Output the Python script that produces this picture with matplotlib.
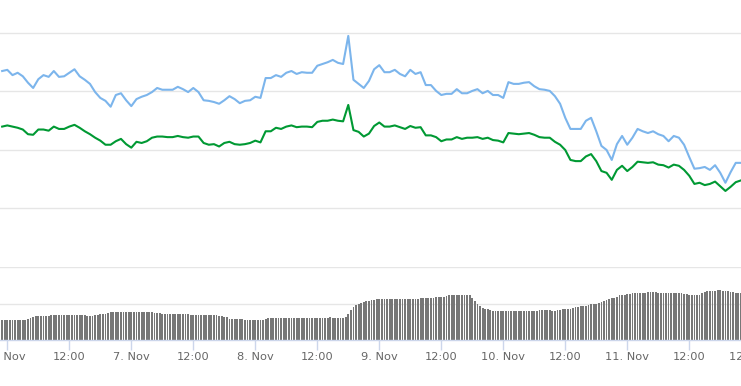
import matplotlib
matplotlib.use("Agg")
import matplotlib.pyplot as plt
import matplotlib.dates as mdates
from matplotlib.ticker import FuncFormatter
import pandas as pd

# ---------------- data ----------------
line_start = "2018-11-05 23:00"          # hourly samples
blue_values = [335, 337, 328, 332, 326, 315, 306, 321, 328, 325, 335, 325, 326, 332, 338, 326,
               320, 313, 299, 289, 284, 274, 294, 297, 285, 275, 287, 291, 294, 299, 306, 303,
               303, 303, 308, 304, 299, 306, 299, 285, 284, 282, 279, 285, 292, 287, 280, 284,
               285, 291, 289, 323, 323, 328, 325, 332, 335, 330, 333, 332, 332, 344, 347, 350,
               354, 349, 347, 395, 320, 313, 306, 318, 338, 345, 333, 333, 337, 330, 326, 337,
               330, 333, 311, 311, 301, 294, 296, 296, 304, 297, 297, 301, 304, 297, 301, 294,
               294, 289, 316, 313, 313, 315, 316, 309, 304, 303, 301, 292, 279, 255, 236, 236,
               236, 250, 255, 232, 207, 200, 183, 210, 224, 209, 221, 236, 232, 229, 232, 227,
               224, 215, 224, 221, 209, 188, 168, 169, 171, 166, 174, 161, 144, 162, 178, 178]
green_values = [240, 242, 240, 238, 235, 227, 226, 235, 235, 233, 240, 236, 236, 240, 243, 238,
                232, 227, 221, 216, 209, 209, 215, 219, 210, 204, 214, 212, 215, 221, 223, 223,
                222, 222, 224, 222, 221, 223, 223, 212, 209, 210, 206, 212, 214, 210, 209, 210,
                212, 216, 213, 232, 232, 238, 236, 240, 242, 239, 240, 240, 239, 248, 250, 250,
                252, 250, 249, 277, 234, 231, 223, 228, 241, 247, 240, 240, 242, 239, 236, 241,
                238, 239, 225, 225, 222, 215, 218, 218, 222, 219, 221, 221, 222, 219, 221, 217,
                216, 213, 229, 228, 227, 228, 229, 226, 222, 221, 221, 214, 209, 200, 183, 181,
                181, 189, 193, 181, 164, 161, 149, 166, 173, 164, 171, 180, 179, 178, 179, 175,
                174, 170, 175, 173, 166, 156, 142, 144, 140, 142, 146, 138, 130, 137, 145, 148]

bar_start = "2018-11-05 23:00"           # half-hourly samples
volume_values = [28, 28, 28, 28, 28, 28, 28, 28, 28, 28,
                 29, 30,
                 32, 33, 33, 33, 33, 33, 33,
                 34, 34, 34, 34, 34, 34, 34, 34, 34, 34, 34, 34, 34,
                 34, 33, 33, 33, 34, 34,
                 35, 36, 36, 37,
                 38, 38, 38, 38, 38, 38, 38,
                 38, 38, 38, 38, 38, 38, 38, 38, 38, 38,
                 37, 37, 37, 36, 36,
                 36, 36, 36, 36, 35, 35, 35, 35, 35,
                 34, 34, 34, 34, 34, 34, 34, 34, 34, 34, 34,
                 33, 33, 32, 31,
                 29, 29, 29, 29, 29, 29, 28, 28,
                 27, 27, 27, 27, 28, 28,
                 29, 30, 30, 30, 30, 30, 30, 30, 30, 30, 30, 30, 30, 30, 30, 30, 30, 30, 30, 30, 30, 30,
                 30, 30, 30, 31, 30, 30, 30, 30, 30, 31,
                 36, 41, 45,
                 48, 50, 51, 52, 53, 53,
                 55, 55, 56, 56, 56, 56, 56, 56, 56, 56, 56, 56,
                 56, 56, 56, 56, 56, 56, 56, 57, 57, 57, 58,
                 58, 58, 59, 59, 59, 59,
                 60, 61, 61, 61, 61, 62, 62, 62, 62, 62,
                 58, 54, 49, 46,
                 44, 43, 42, 41,
                 40, 40, 40, 40, 40, 40, 40, 40, 40, 40, 40, 40, 40, 40, 40, 40, 40,
                 40, 41, 41, 41, 41, 41, 40, 40, 41,
                 41, 42, 42, 42, 43,
                 44, 45, 45, 46, 46, 47,
                 48, 49, 50, 50, 51, 52, 54,
                 55, 56, 57, 58, 59,
                 61, 62, 62, 63, 63, 64, 64,
                 65, 65, 65, 65, 66, 66, 66, 66, 65, 65,
                 64, 64, 64, 64, 64, 64, 64, 64, 63, 63,
                 62, 62, 62, 61, 62, 64,
                 66, 67, 67, 67, 67, 68, 68, 67, 67, 67, 66, 66,
                 65, 65, 65]

x_start = "2018-11-05 22:35"
x_end = "2018-11-12 05:34"

# ---------------- style ----------------
BLUE = "#7cb5ec"
GREEN = "#009933"
BAR = "#777777"
GRID = "#e6e6e6"
AXIS = "#ccd6eb"
LABEL = "#666666"

line_t = pd.date_range(line_start, periods=len(blue_values), freq="h")
bar_t = pd.date_range(bar_start, periods=len(volume_values), freq="30min")

W, H = 741, 386
fig = plt.figure(figsize=(W / 100, H / 100), dpi=100)
fig.patch.set_facecolor("white")

ax_w = 780 / W
ax_top = fig.add_axes([0, 1 - 267 / H, ax_w, 267 / H])
ax_bot = fig.add_axes([0, 1 - 340 / H, ax_w, 73 / H], sharex=ax_top)

# upper panel
ax_top.plot(line_t, blue_values, color=BLUE, lw=1.5, solid_joinstyle="round")
ax_top.plot(line_t, green_values, color=GREEN, lw=1.5, solid_joinstyle="round")
ax_top.set_ylim(0, 456.4)
ax_top.set_yticks([100, 200, 300, 400])
ax_top.grid(axis="y", color=GRID, lw=1)
ax_top.tick_params(left=False, labelleft=False, bottom=False, labelbottom=False)
for s in ax_top.spines.values():
    s.set_visible(False)

# lower panel
ax_bot.bar(bar_t, volume_values, width=pd.Timedelta(minutes=21), color=BAR, align="center")
ax_bot.set_ylim(0, 100)
ax_bot.set_yticks([50, 100])
ax_bot.grid(axis="y", color=GRID, lw=1)
ax_bot.set_axisbelow(True)
ax_bot.tick_params(left=False, labelleft=False)
for k in ("top", "left", "right"):
    ax_bot.spines[k].set_visible(False)
ax_bot.spines["bottom"].set_color(AXIS)
ax_bot.spines["bottom"].set_linewidth(1)

ax_bot.set_xlim(pd.Timestamp(x_start), pd.Timestamp(x_end))
ax_bot.xaxis.set_major_locator(mdates.HourLocator(byhour=[0, 12]))


def fmt(x, pos):
    d = mdates.num2date(x)
    if d.hour == 0:
        return f"{d.day}. Nov"
    return "12:00"


ax_bot.xaxis.set_major_formatter(FuncFormatter(fmt))
ax_bot.tick_params(axis="x", direction="out", length=7.2, width=1, color=AXIS,
                   labelcolor=LABEL, labelsize=8.2, pad=1.5)
for lab in ax_bot.get_xticklabels():
    lab.set_family("DejaVu Sans")

fig.savefig("out.png", dpi=100, facecolor="white")
